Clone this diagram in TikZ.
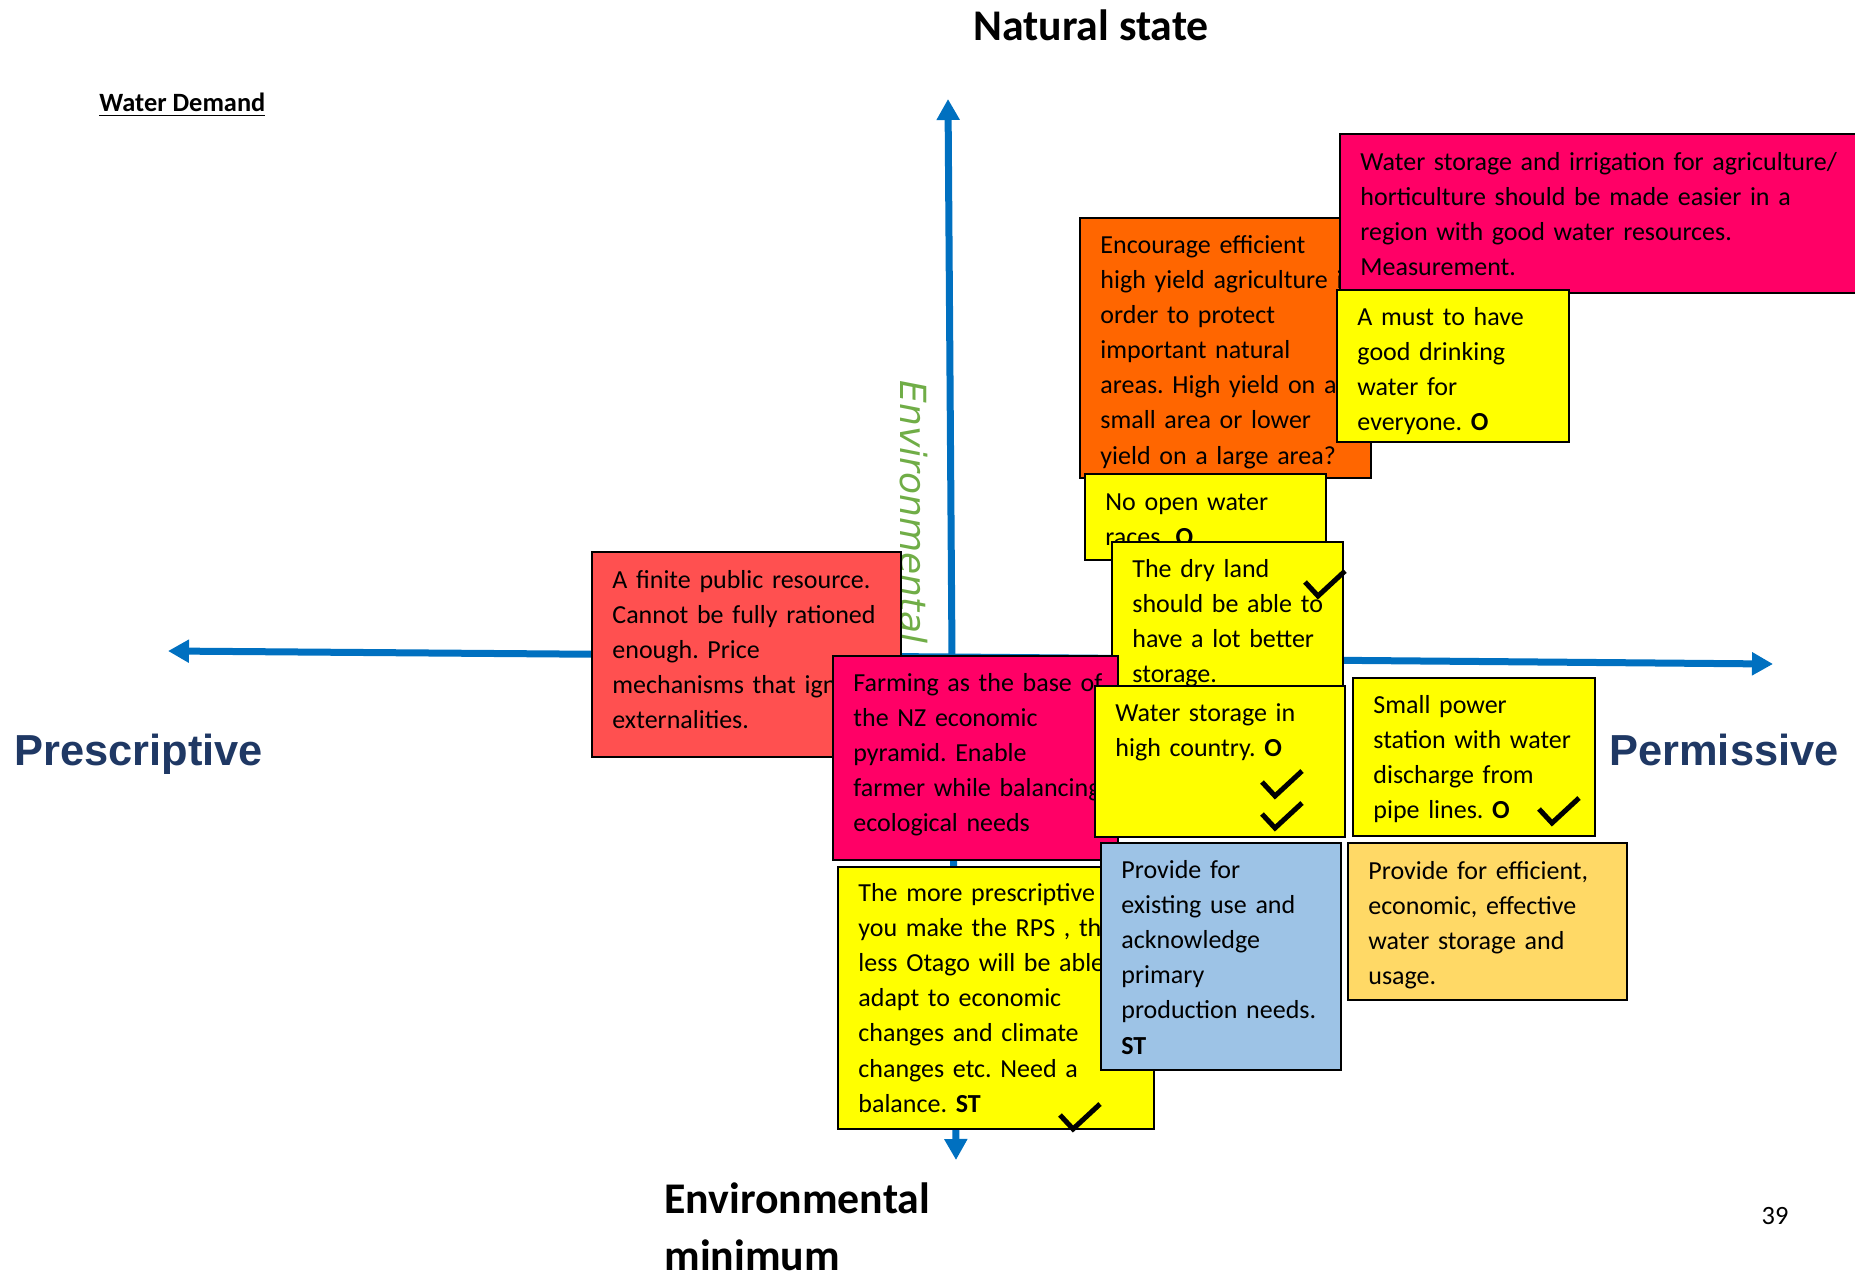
\documentclass[tikz,border=0pt]{standalone}
\usepackage{fontspec}
\setmainfont{Carlito}
\newfontfamily\headfont{Liberation Sans}
\newfontfamily\slantfont{DejaVu Sans}
\usetikzlibrary{arrows.meta}
\frenchspacing

\definecolor{axisblue}{HTML}{0070C0}
\definecolor{navy}{HTML}{1F3864}
\definecolor{leafgreen}{HTML}{70AD47}
\definecolor{hotpink}{HTML}{FF0066}
\definecolor{deeporange}{HTML}{FF6600}
\definecolor{salmon}{HTML}{FF5050}
\definecolor{lemon}{HTML}{FFFF00}
\definecolor{skyblue}{HTML}{9DC3E6}
\definecolor{sand}{HTML}{FFD966}

\begin{document}
\begin{tikzpicture}[x=0.5pt,y=-0.5pt,
		axis/.style={draw=axisblue, line width=3.5pt},
		tip/.style={-{Triangle[length=10.5pt,width=11pt]}},
		note/.style={draw=black, line width=1pt},
		notetext/.style={anchor=base west, align=left, inner xsep=10pt, inner ysep=0pt, font=\fontsize{13}{17.55}\selectfont},
		bigtitle/.style={inner sep=0pt, font=\fontsize{21.9}{28.5}\selectfont\bfseries},
		side/.style={anchor=base west, inner sep=0pt, text=navy, font=\headfont\fontsize{21.7}{26}\selectfont\bfseries},
		tickmark/.pic={\draw[line width=2.5pt] (-13,-14) -- (0,0) -- (27,-25);}
	]
	\useasboundingbox (0,0) rectangle (1855,1278);
	
	% Axes
	\coordinate (W) at (168,651);
	\coordinate (E) at (1773,664);
	\coordinate (N) at (948,99);
	\coordinate (S) at (956,1160);
	\coordinate (O) at (952,657);
	\draw[axis, tip] (O) -- (W);
	\draw[axis, tip] (O) -- (E);
	\draw[axis, tip] (O) -- (N);
	\draw[axis, tip] (O) -- (S);
	
	\node[rotate=-90, inner sep=0pt, text=leafgreen, font=\slantfont\itshape\fontsize{18}{20}\selectfont] (envlabel) at (914,512) {Environmental};
	
	% Notes
	\filldraw[note, fill=deeporange] (1080,218) rectangle (1371,478);
	\node[notetext, text width=135pt] (encourage) at (1080,253.5) {Encourage efficient\\high yield agriculture in\\order to protect\\important natural\\areas. High yield on a\\small area or lower\\yield on a large area?};
	
	\filldraw[note, fill=hotpink] (1340,134) rectangle (1880,293);
	\node[notetext, text width=240pt] (irrigation) at (1340,170.5) {Water storage and irrigation for agriculture/\\horticulture should be made easier in a\\region with good water resources.\\Measurement.};
	
	\filldraw[note, fill=lemon] (1337,290) rectangle (1569,442);
	\node[notetext, text width=106pt] (drinking) at (1337,325.5) {A must to have\\good drinking\\water for\\everyone. \textbf{O}};
	
	\filldraw[note, fill=lemon] (1085,474) rectangle (1326,560);
	\node[notetext, text width=110pt] (races) at (1085,510.5) {No open water\\races. \textbf{O}};
	
	\filldraw[note, fill=lemon] (1112,542) rectangle (1343,690);
	\node[notetext, text width=105pt] (dryland) at (1112,577.5) {The dry land\\should be able to\\have a lot better\\storage.};
	
	\filldraw[note, fill=salmon] (592,552) rectangle (901,757);
	\node[notetext, text width=144pt] (finite) at (592,588.5) {A finite public resource.\\Cannot be fully rationed\\enough. Price\\mechanisms that ignore\\externalities.};
	
	\filldraw[note, fill=hotpink] (833,656) rectangle (1118,860);
	\node[notetext, text width=132pt] (farming) at (833,691.5) {Farming as the base of\\the NZ economic\\pyramid. Enable\\farmer while balancing\\ecological needs};
	
	\filldraw[note, fill=lemon] (1095,686) rectangle (1345,837);
	\node[notetext, text width=115pt] (highcountry) at (1095,721.5) {Water storage in\\high country. \textbf{O}};
	
	\filldraw[note, fill=lemon] (1353,678) rectangle (1595,836);
	\node[notetext, text width=111pt] (power) at (1353,713.5) {Small power\\station with water\\discharge from\\pipe lines. \textbf{O}};
	
	\filldraw[note, fill=lemon] (838,867) rectangle (1154,1129);
	\node[notetext, text width=148pt] (prescribe) at (838,901.5) {The more prescriptive\\you make the RPS , then\\less Otago will be able to\\adapt to economic\\changes and climate\\changes etc. Need a\\balance. \textbf{ST}};
	
	\filldraw[note, fill=skyblue] (1101,843) rectangle (1341,1070);
	\node[notetext, text width=110pt] (existing) at (1101,878.5) {Provide for\\existing use and\\acknowledge\\primary\\production needs.\\\textbf{ST}};
	
	\filldraw[note, fill=sand] (1348,843) rectangle (1627,1000);
	\node[notetext, text width=129pt] (efficient) at (1348,879.5) {Provide for efficient,\\economic, effective\\water storage and\\usage.};
	
	% Ticks
	\foreach \tx/\ty in {1318/596, 1275/796, 1275/828, 1552/823, 1073/1129} {
		\pic at (\tx,\ty) {tickmark};
	}
	
	% Labels
	\node[bigtitle, anchor=base] (natural) at (1091,41) {Natural state};
	\node[anchor=base west, inner sep=0pt, font=\fontsize{13.2}{16}\selectfont\bfseries] (demand) at (99,112) {\underline{Water Demand}};
	\node[side] (prescriptive) at (14,765) {Prescriptive};
	\node[side] (permissive) at (1609,765) {Permissive};
	\node[bigtitle, anchor=base west, align=left] (minimum) at (664,1270) {Environmental\\minimum};
	\node[anchor=base, inner sep=0pt, font=\fontsize{13.2}{16}\selectfont] (page) at (1775,1224) {39};
\end{tikzpicture}
\end{document}
